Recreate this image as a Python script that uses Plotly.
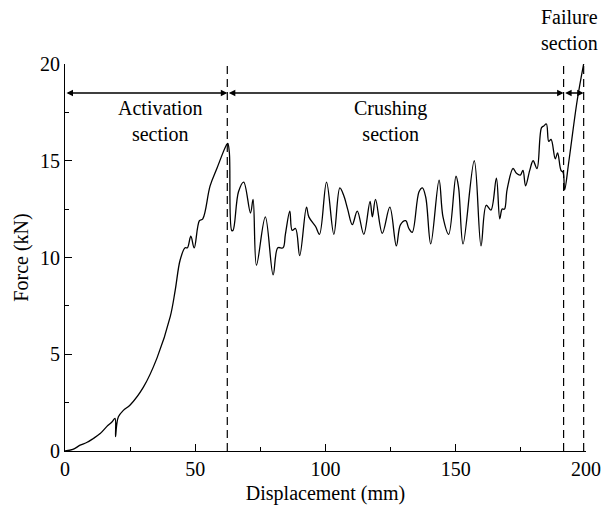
import plotly.graph_objects as go

# Force-displacement record (mm, kN)
displacement = [
    0, 3, 5.8, 8.5, 10.9, 13.5, 16, 18, 19.2, 19.4, 19.8, 20.5, 22.4, 25,
    30.1, 35.3, 40.4, 42.3, 44.2, 46.1, 47, 48.3, 49.6, 51.6, 52.9, 55.7,
    58.3, 61.9, 62.5, 63.1, 64.0, 64.5, 66.6, 68.6, 71.2, 72.2, 73.5, 76.9,
    79.9, 81.7, 83.7, 84.6, 86.3, 87.2, 88.5, 90.1, 92.7, 93.6, 96.2, 97.7,
    100.4, 103.2, 105.5, 107, 108.5, 110.3, 112.2, 114.7, 117.1, 118, 119.2,
    121.8, 124.7, 127.2, 128.8, 130.8, 132, 133.3, 135.9, 137.2, 138.5,
    140.4, 143.6, 145.1, 147.3, 150.1, 151.1, 152.8, 157.1, 159.7, 161.7,
    163.5, 165.6, 166.9, 167.8, 168.7, 169.7, 172, 173.3, 174.8, 175.8,
    176.8, 178.4, 179.7, 181.2, 182.9, 183.8, 184.8, 185.7, 186.6, 188.2,
    189.1, 190.4, 191.2, 191.8, 193.4, 196.6, 199.1,
]
force = [
    0, 0.08, 0.3, 0.45, 0.65, 0.9, 1.26, 1.5, 1.69, 0.74, 1.3, 1.77, 2.1, 2.38,
    3.3, 4.8, 6.94, 8.3, 9.87, 10.5, 10.5, 11.1, 10.5, 11.9, 12.0, 13.7,
    14.6, 15.8, 15.9, 15.4, 11.4, 11.4, 13.4, 13.9, 12.3, 13.0, 9.6, 12.1,
    9.1, 10.5, 10.5, 11.2, 12.4, 11.4, 11.5, 10.1, 12.6, 12.1, 11.6, 11.2,
    13.9, 11.2, 13.6, 13.2, 12.5, 11.7, 12.4, 11.2, 12.9, 12.1, 13.0,
    11.25, 12.6, 10.6, 11.7, 11.9, 11.5, 11.3, 13.4, 13.6, 13.1,
    10.7, 14.0, 12.1, 11.2, 14.2, 13.6, 10.7, 15.0, 10.6, 12.7,
    12.45, 14.1, 12.0, 12.5, 12.5, 13.5, 14.6, 14.35, 14.26, 14.5,
    13.7, 14.5, 15.0, 14.6, 16.7, 16.8, 16.9, 16.0, 16.1, 15.1,
    15.4, 14.5, 14.4, 13.5, 14.95, 18.1, 20.0,
]

# Section boundaries (mm) and labels
boundaries = [0, 62.3, 191.4, 199.1]
section_labels = ["Activation<br>section", "Crushing<br>section", "Failure<br>section"]
label_x = [0.182, 0.624, 1.027]  # paper fraction of plot width
label_y = [0.853, 0.853, 1.088]  # paper fraction of plot height
label_anchor = ["center", "center", "right"]
arrow_level = 18.5

FONT = "Liberation Serif"
FS = 20

fig = go.Figure()
fig.add_trace(go.Scatter(
    x=displacement, y=force, mode="lines",
    line=dict(color="black", width=1.3, shape="spline", smoothing=1.0),
    showlegend=False, hoverinfo="skip",
))

# Dashed boundary lines
for b in boundaries[1:]:
    fig.add_shape(type="line", x0=b, x1=b, y0=0, y1=20, xref="x", yref="y",
                  line=dict(color="black", width=1.2, dash="8px,5px"))

# Double-headed arrows spanning each section
for a, b in zip(boundaries[:-1], boundaries[1:]):
    fig.add_annotation(x=b, y=arrow_level, ax=a, ay=arrow_level,
                       xref="x", yref="y", axref="x", ayref="y",
                       text="", showarrow=True, arrowhead=2, arrowside="end+start",
                       arrowsize=1, arrowwidth=1.3, arrowcolor="black",
                       standoff=0, startstandoff=0)

for t, lx, ly, anc in zip(section_labels, label_x, label_y, label_anchor):
    fig.add_annotation(x=lx, y=ly, xref="paper", yref="paper", text=t, showarrow=False,
                       font=dict(family=FONT, size=FS, color="black"),
                       align="center", xanchor=anc, yanchor="middle")

fig.update_layout(
    width=602, height=508,
    margin=dict(l=65, r=16, t=64, b=57),
    paper_bgcolor="white", plot_bgcolor="white",
    font=dict(family=FONT, size=FS, color="black"),
    xaxis=dict(
        range=[0, 200], tickvals=[0, 50, 100, 150, 200], automargin=False,
        ticks="inside", ticklen=7, tickwidth=1, tickcolor="black",
        minor=dict(ticks="inside", ticklen=4, tickwidth=1, tickcolor="black",
                   tickvals=[25, 75, 125, 175]),
        showline=True, linecolor="black", linewidth=1, showgrid=False,
        zeroline=False, mirror=False,
        title=dict(text="Displacement (mm)", standoff=6, font=dict(size=FS)),
        tickfont=dict(size=FS),
    ),
    yaxis=dict(
        range=[0, 20], tickvals=[0, 5, 10, 15, 20], automargin=False,
        ticks="inside", ticklen=7, tickwidth=1, tickcolor="black",
        minor=dict(ticks="inside", ticklen=4, tickwidth=1, tickcolor="black",
                   tickvals=[2.5, 7.5, 12.5, 17.5]),
        showline=True, linecolor="black", linewidth=1, showgrid=False,
        zeroline=False, mirror=False,
        title=dict(text="Force (kN)", standoff=6, font=dict(size=FS)),
        tickfont=dict(size=FS),
    ),
)

fig.write_html("out.html")
